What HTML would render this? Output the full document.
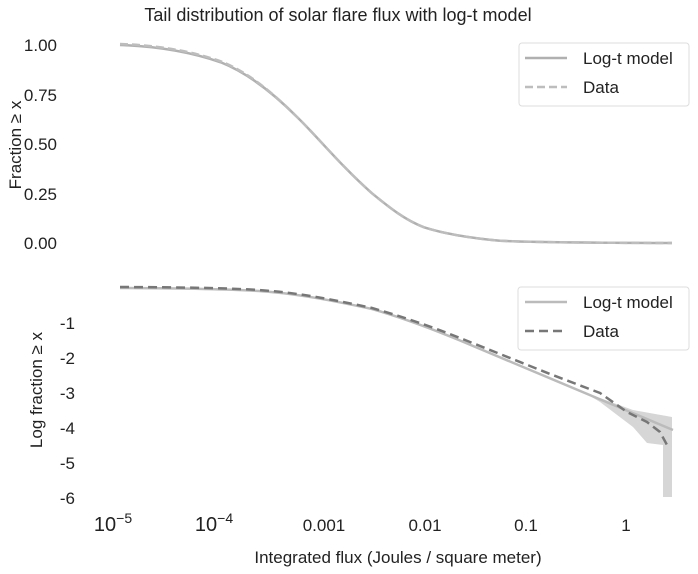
<!DOCTYPE html>
<html><head><meta charset="utf-8"><style>
html,body{margin:0;padding:0;background:#fff;}
svg{display:block;font-family:"Liberation Sans","DejaVu Sans",sans-serif;}
</style></head><body>
<svg width="698" height="574" viewBox="0 0 698 574" xmlns="http://www.w3.org/2000/svg">
<text x="338" y="21" font-size="18" text-anchor="middle" fill="#222">Tail distribution of solar flare flux with log-t model</text>
<g font-size="17" fill="#222" text-anchor="end">
<text x="57" y="51">1.00</text>
<text x="57" y="101">0.75</text>
<text x="57" y="150">0.50</text>
<text x="57" y="200">0.25</text>
<text x="57" y="249">0.00</text>
</g>
<text transform="translate(21,145) rotate(-90)" font-size="17" text-anchor="middle" fill="#222">Fraction ≥ x</text>
<path fill="none" stroke="#b0b0b0" stroke-width="2.5" d="M120,45 C150,46 185,50 221,62.4 C250,74 275,95 296,116 C315,134 340,165 372,193.3 C390,208 405,220 424,227.3 C445,234 470,238 500,240.8 C540,242.5 600,242.8 672,243"/>
<path fill="none" stroke="#bdbdbd" stroke-width="2.5" stroke-dasharray="8,4" d="M120,44 C150,45 185,49 221,61.4 C250,73 275,95 296,116 C315,134 340,165 372,193.3 C390,208 405,220 424,227.3 C445,234 470,238 500,240.8 C540,242.5 600,242.8 672,243"/>
<rect x="519" y="43" width="170" height="63" rx="3" fill="#fff" stroke="#ddd"/>
<line x1="525" y1="58" x2="567" y2="58" stroke="#b0b0b0" stroke-width="2.5"/>
<line x1="525" y1="87" x2="567" y2="87" stroke="#bdbdbd" stroke-width="2.5" stroke-dasharray="8,4"/>
<text x="583" y="64" font-size="17" fill="#222">Log-t model</text>
<text x="583" y="93" font-size="17" fill="#222">Data</text>
<g font-size="17" fill="#222" text-anchor="end">
<text x="75" y="329">-1</text>
<text x="75" y="364">-2</text>
<text x="75" y="399">-3</text>
<text x="75" y="434">-4</text>
<text x="75" y="469">-5</text>
<text x="75" y="504">-6</text>
</g>
<text transform="translate(42,390) rotate(-90)" font-size="17" text-anchor="middle" fill="#222">Log fraction ≥ x</text>
<polygon fill="#d6d6d6" points="590,396 600,398 633,410 672,417 672,497 663,497 663,445 647,443 633,427 600,402"/>
<path fill="none" stroke="#bbbbbb" stroke-width="2.5" d="M120,288 C180,288.3 240,289 271,292 C300,294.5 330,300 372,309 C400,317 430,328 460,340.5 L673,430"/>
<path fill="none" stroke="#777" stroke-width="2.5" stroke-dasharray="9,5" d="M120,287 C180,287.3 240,288 271,291 C300,293.5 330,299 372,308 C400,316 430,326 460,338 L550,374 L600,393 L627,412 L647,422 L660,432 L667,445"/>
<rect x="518" y="287" width="171" height="63" rx="3" fill="#fff" stroke="#ddd"/>
<line x1="525" y1="302" x2="567" y2="302" stroke="#bbbbbb" stroke-width="2.5"/>
<line x1="525" y1="331" x2="567" y2="331" stroke="#777" stroke-width="2.5" stroke-dasharray="9,5"/>
<text x="583" y="308" font-size="17" fill="#222">Log-t model</text>
<text x="583" y="337" font-size="17" fill="#222">Data</text>
<g font-size="17" fill="#222" text-anchor="middle">
<text x="113" y="531" font-size="20">10<tspan dy="-8" font-size="14">−5</tspan></text>
<text x="214" y="531" font-size="20">10<tspan dy="-8" font-size="14">−4</tspan></text>
<text x="324" y="531">0.001</text>
<text x="425" y="531">0.01</text>
<text x="526" y="531">0.1</text>
<text x="626" y="531">1</text>
</g>
<text x="398" y="563" font-size="17" text-anchor="middle" fill="#222">Integrated flux (Joules / square meter)</text>
</svg>
</body></html>
